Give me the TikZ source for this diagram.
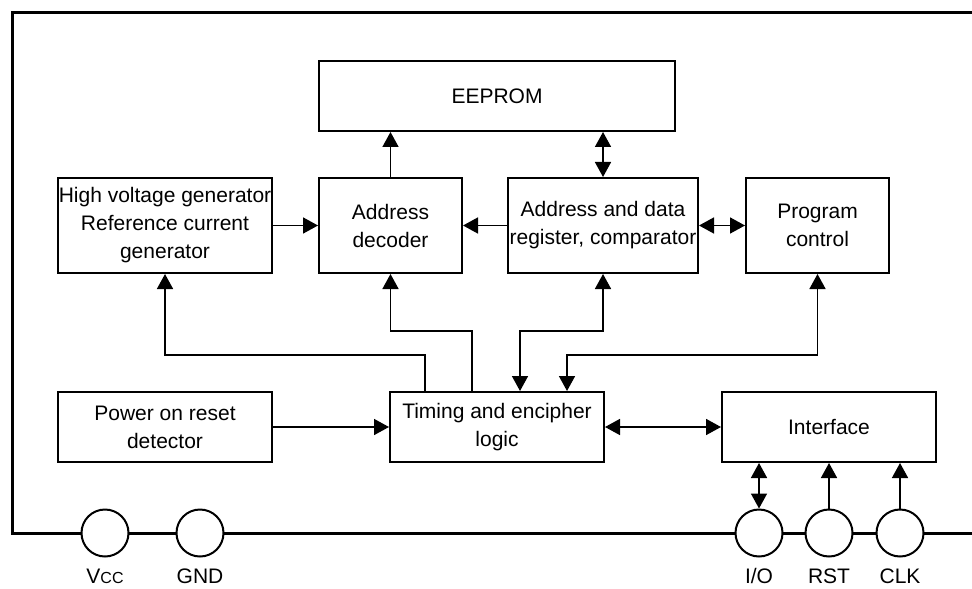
\documentclass[tikz,border=0pt]{standalone}
\usepackage{fontspec}
\setmainfont{Liberation Sans}
\usetikzlibrary{arrows.meta}

\begin{document}
\begin{tikzpicture}[x=0.5pt,y=-0.5pt,line width=0.8pt,font=\fontsize{10.5}{14}\selectfont,
  >={Triangle[length=7.5pt,width=8pt]},
  main/.style = {draw, line width=1pt, inner sep=0pt, align=center, minimum width=107pt, minimum height=35pt},
  pin/.style = {draw, circle, line width=1pt, fill=white, inner sep=0pt, minimum size=23.5pt}]
\useasboundingbox (0,0) rectangle (972,588);
\draw[line width=1.5pt] (972,13) -- (12,13) -- (12,533) -- (972,533);
\node[main, minimum width=178pt] (1) at (497,96) {EEPROM};
\node[main, minimum width=71.5pt, minimum height=47.5pt] (2) at (390.5,225.5) {Address\\decoder};
\node[main, minimum width=95pt, minimum height=47.5pt] (3) at (603,225.5) {Address and data\\register, comparator};
\node[main, minimum height=47.5pt] (4) at (165,225.5) {High voltage generator\\Reference current\\generator};
\node[main, minimum width=71.5pt, minimum height=47.5pt] (5) at (817.5,225.5) {Program\\control};
\node[main] (6) at (165,427) {Power on reset\\detector};
\node[main] (7) at (497,427) {Timing and encipher\\logic};
\node[main] (8) at (829,427) {Interface};
\node[pin] (9) at (105,533) {};
\node[pin] (10) at (200,533) {};
\node[pin] (11) at (759,533) {};
\node[pin] (12) at (829,533) {};
\node[pin] (13) at (900,533) {};
\node (9l) at (105,576) {V{\fontsize{8}{8}\selectfont CC}};
\node (10l) at (200,576) {GND};
\node (11l) at (759,576) {I/O};
\node (12l) at (829,576) {RST};
\node (13l) at (900,576) {CLK};
\draw[->] (2.north) -- (2.north |- 1.south);
\draw[<->] (3.north) -- (3.north |- 1.south);
\draw[->] (4) -- (2);
\draw[->] (3) -- (2);
\draw[<->] (3) -- (5);
\draw[->] (6) -- (7);
\draw[<->] (7) -- (8);
\draw[->] ([xshift=18pt]7.north west) -- ++(0,-36) -| (4.south);
\draw[->] ([xshift=41.5pt]7.north west) -- ++(0,-60) -| (2.south);
\draw[<->] ([xshift=65.5pt]7.north west) -- ++(0,-60) -| (3.south);
\draw[<->] ([xshift=89pt]7.north west) -- ++(0,-36) -| (5.south);
\draw[<->] (11.north) -- (11.north |- 8.south);
\draw[->] (12) -- (8);
\draw[->] (13.north) -- (13.north |- 8.south);
\end{tikzpicture}
\end{document}
